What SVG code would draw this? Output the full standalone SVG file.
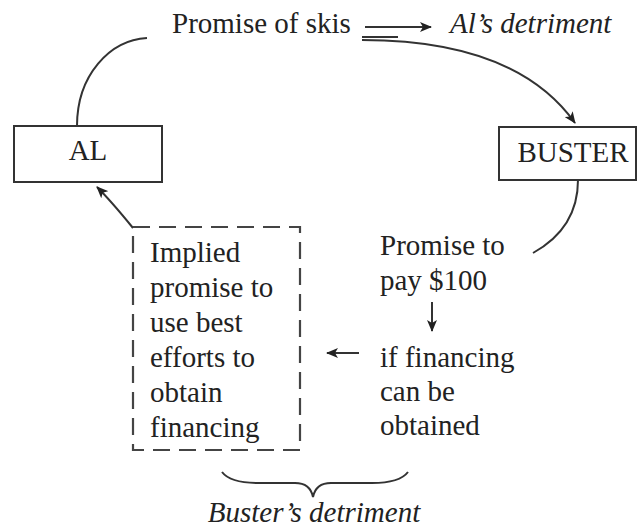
<svg xmlns="http://www.w3.org/2000/svg" width="639" height="529" viewBox="0 0 639 529">
  <style>
    .txt { font-family: "Liberation Serif", "DejaVu Serif", serif; font-size: 29px; fill: #222; }
    .ital { font-style: italic; }
    .box { fill: #fff; stroke: #333; stroke-width: 2; }
    .dash { fill: none; stroke: #444; stroke-width: 2.2; stroke-dasharray: 17 9; }
    .conn { fill: none; stroke: #333; stroke-width: 2; }
  </style>
  <defs>
    <marker id="head" viewBox="0 0 12 10" refX="11" refY="5" markerWidth="12" markerHeight="10" markerUnits="userSpaceOnUse" orient="auto">
      <path d="M0,0 L12,5 L0,10 L3,5 z" fill="#222"/>
    </marker>
  </defs>

  <rect width="639" height="529" fill="#fff"/>

  <!-- connectors -->
  <g id="connectors">
    <!-- Al's promise of skis reaches Buster -->
    <path class="conn" d="M147,38 C110,40 77,75 77,126"/>
    <line class="conn" x1="362" y1="37" x2="398" y2="37"/>
    <path class="conn" d="M362,40 C450,40 530,60 575,123" marker-end="url(#head)"/>
    <!-- Buster's promise to pay -->
    <path class="conn" d="M578,180 C578,215 560,238 533,253"/>
    <!-- implied promise back to Al -->
    <path class="conn" d="M133,228 C120,212 108,198 97,187" marker-end="url(#head)"/>
    <!-- typeset arrows -->
    <line class="conn" x1="365" y1="27" x2="431" y2="27" stroke-width="1.6" marker-end="url(#head)"/>
    <line class="conn" x1="432" y1="302" x2="432" y2="331" stroke-width="1.6" marker-end="url(#head)"/>
    <line class="conn" x1="359" y1="353" x2="327" y2="353" stroke-width="1.6" marker-end="url(#head)"/>
    <!-- brace under the two detriment items -->
    <path class="conn" d="M222,472 C228,480 240,483 258,483 L295,483 C305,483 311,487 313,497 C315,487 321,483 331,483 L372,483 C390,483 402,480 408,472"/>
  </g>

  <!-- top labels -->
  <g id="skis">
    <text class="txt" x="172" y="33">Promise of skis</text>
  </g>
  <g id="al-detriment">
    <text class="txt ital" x="450" y="33">Al’s detriment</text>
  </g>

  <!-- parties -->
  <g id="al">
    <rect class="box" x="14" y="126" width="148" height="56"/>
    <text class="txt" x="88" y="160" text-anchor="middle">AL</text>
  </g>
  <g id="buster">
    <rect class="box" x="499" y="127" width="137" height="53"/>
    <text class="txt" x="573" y="162" text-anchor="middle">BUSTER</text>
  </g>

  <!-- implied promise -->
  <g id="implied">
    <rect class="dash" x="133" y="227" width="167" height="223"/>
    <text class="txt" x="150" y="262">Implied</text>
    <text class="txt" x="150" y="297">promise to</text>
    <text class="txt" x="150" y="332">use best</text>
    <text class="txt" x="150" y="367">efforts to</text>
    <text class="txt" x="150" y="402">obtain</text>
    <text class="txt" x="150" y="437">financing</text>
  </g>

  <!-- Buster's promise -->
  <g id="pay">
    <text class="txt" x="380" y="255">Promise to</text>
    <text class="txt" x="380" y="290">pay $100</text>
  </g>
  <g id="condition">
    <text class="txt" x="380" y="367">if financing</text>
    <text class="txt" x="380" y="401">can be</text>
    <text class="txt" x="380" y="435">obtained</text>
  </g>

  <g id="buster-detriment">
    <text class="txt ital" x="314" y="522" text-anchor="middle">Buster’s detriment</text>
  </g>
</svg>
